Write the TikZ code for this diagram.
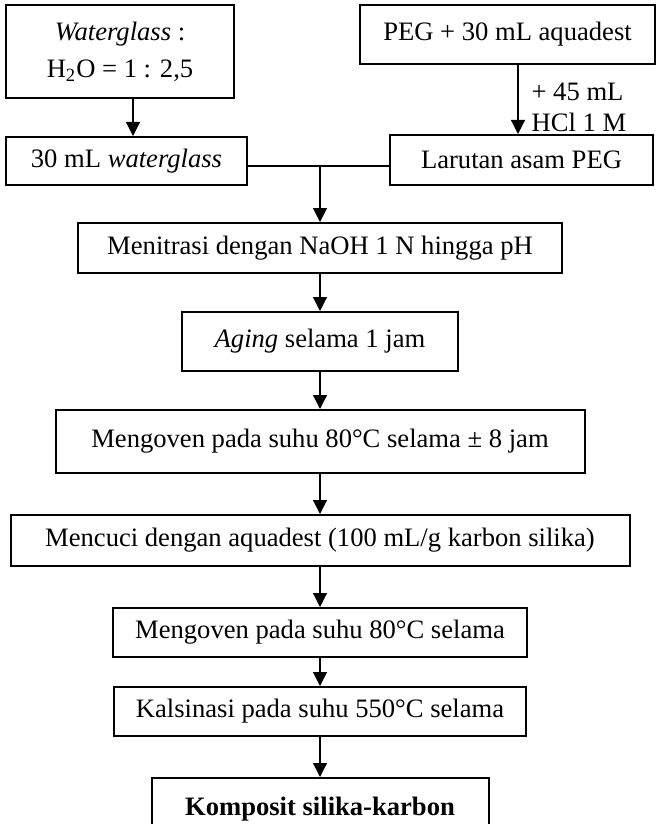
\documentclass[tikz,border=0pt]{standalone}
\usepackage{fontspec}
\setmainfont{Liberation Serif}
\usetikzlibrary{arrows.meta}

\begin{document}
\begin{tikzpicture}[x=0.5pt, y=-0.5pt,
  box/.style={draw, line width=1pt, inner sep=0pt, align=center, font=\fontsize{13.3}{18.5}\selectfont},
  arr/.style={-{Triangle[length=7pt,width=7pt]}, line width=0.6pt}]
\useasboundingbox (0,0) rectangle (656,824);
\clip (0,0) rectangle (656,824);

%top row
\node[box, minimum width=114pt, minimum height=46.5pt] (wg) at (120,51.5) {\textit{Waterglass} :\\H\textsubscript{2}O = 1 : 2,5};
\node[box, minimum width=147.5pt, minimum height=29.5pt] (peg) at (507.5,34.5) {PEG + 30 mL aquadest};
\node[box, minimum width=120.5pt, minimum height=24pt] (wg30) at (126.5,161) {30 mL \textit{waterglass}};
\node[box, minimum width=131.5pt, minimum height=25pt] (lar) at (521.5,160) {Larutan asam PEG};

%main steps
\node[box, minimum width=242pt, minimum height=25pt] (tit) at (320,248) {Menitrasi dengan NaOH 1 N hingga pH};
\node[box, minimum width=138pt, minimum height=29.5pt] (aging) at (320,341.5) {\textit{Aging} selama 1 jam};
\node[box, minimum width=264.5pt, minimum height=31.5pt] (oven1) at (320,441.5) {Mengoven pada suhu 80°C selama ± 8 jam};
\node[box, minimum width=309.5pt, minimum height=25.5pt] (cuci) at (320,540.5) {Mencuci dengan aquadest (100 mL/g karbon silika)};
\node[box, minimum width=207pt, minimum height=24.5pt] (oven2) at (320,632.5) {Mengoven pada suhu 80°C selama};
\node[box, minimum width=206pt, minimum height=24.5pt] (kals) at (320,711.5) {Kalsinasi pada suhu 550°C selama};
\node[box, minimum width=168.5pt, minimum height=31pt] (komp) at (320,809) {\textbf{Komposit silika-karbon}};

%arrows
\coordinate (wgline) at (133,0);
\coordinate (pegline) at (518,0);
\coordinate (join) at (320,166);
\draw[arr] (wg.south -| wgline) -- (wg30.north -| wgline);
\draw[arr] (peg.south -| pegline) -- (lar.north -| pegline)
  node[pos=0.61, anchor=west, xshift=6.5pt, inner sep=0pt, align=left, font=\fontsize{13.3}{15.5}\selectfont] (hcl) {+ 45 mL\\HCl 1 M};
\draw[line width=0.6pt] (wg30.east |- join) -- (lar.west |- join);
\draw[arr] (join) -- (tit);
\foreach \a/\b in {tit/aging, aging/oven1, oven1/cuci, cuci/oven2, oven2/kals, kals/komp}
  \draw[arr] (\a) -- (\b);
\end{tikzpicture}
\end{document}
